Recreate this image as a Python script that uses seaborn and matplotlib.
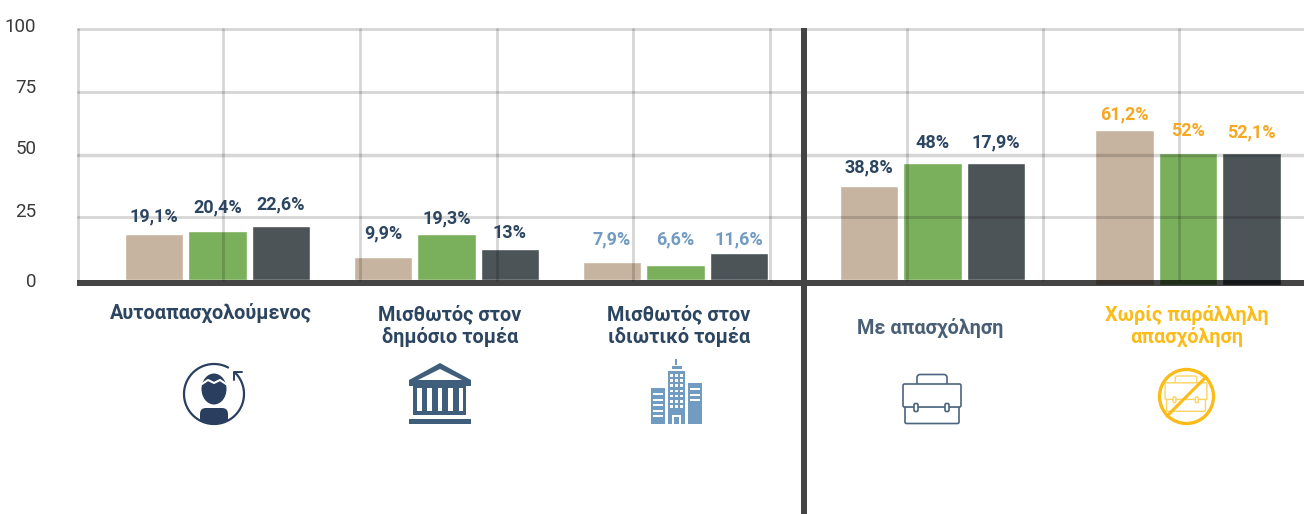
import numpy as np
import pandas as pd
import matplotlib
matplotlib.use("Agg")
import matplotlib.pyplot as plt
import seaborn as sns
from matplotlib.patches import Circle, Ellipse, FancyBboxPatch, Polygon, Rectangle
from matplotlib.transforms import ScaledTranslation

groups = ["Αυτοαπασχολούμενος", "Μισθωτός στον\nδημόσιο τομέα", "Μισθωτός στον\nιδιωτικό τομέα",
          "Με απασχόληση", "Χωρίς παράλληλη\nαπασχόληση"]
series = ["tan", "green", "dark"]
# bar heights as drawn in the picture (they do not always agree with the printed labels)
tan_vals = [18.3, 9.2, 7.2, 37.5, 59.8]
green_vals = [19.5, 18.3, 6.0, 46.6, 50.6]
dark_vals = [21.5, 12.4, 10.8, 46.6, 50.6]
tan_labels = ["19,1%", "9,9%", "7,9%", "38,8%", "61,2%"]
green_labels = ["20,4%", "19,3%", "6,6%", "48%", "52%"]
dark_labels = ["22,6%", "13%", "11,6%", "17,9%", "52,1%"]
y_ticks = [0, 25, 50, 75, 100]

W, H = 1304, 514
group_x = [217.5, 446.5, 675.5, 932.5, 1188]
tan_label_y = [25.5, 18.7, 16.3, 45.0, 66.1]
green_label_y = [29.0, 24.7, 16.3, 54.6, 59.4]
dark_label_y = [30.3, 18.7, 16.3, 55.0, 58.6]
label_colors = ["#2c4560", "#2c4560", "#729bc2", "#2c4560", "#f7a823"]
name_colors = ["#2c4560", "#2c4560", "#2c4560", "#4a5f75", "#fbbc1a"]
name_x = [211, 450, 679, 930, 1187]
name_y = [313, 325.5, 325.5, 328, 326]
grid_x = [78, 223, 360, 497, 633, 770, 907, 1043, 1179]

sns.set_theme(style="white")
plt.rcParams["font.family"] = ["Roboto", "DejaVu Sans"]

fig = plt.figure(figsize=(W / 100, H / 100), dpi=100)
ax = fig.add_axes([78 / W, 1 - 280 / H, (W - 78) / W, 251 / H])

df = pd.DataFrame({
    "pos": group_x * 3,
    "value": tan_vals + green_vals + dark_vals,
    "series": np.repeat(series, 5),
})
sns.barplot(data=df, x="pos", y="value", hue="series", hue_order=series, native_scale=True,
            width=0.832, gap=0.08, saturation=1, legend=False, errorbar=None, ax=ax,
            palette=["#c7b4a0", "#7ab05c", "#4d5457"])

ax.set_xlim(78, W)
ax.set_ylim(0, 100)
ax.set_xlabel("")
ax.set_ylabel("")
ax.set_xticks([])
sns.despine(ax=ax, left=True, bottom=True)

# last group runs down into the baseline
for p in ax.patches:
    if p.get_x() > 1050:
        p.set_y(-2)
        p.set_height(p.get_height() + 2)
        p.set_clip_on(False)

# black with low alpha = multiply look over the bars
for x in grid_x:
    ax.axvline(x, color="black", alpha=0.16, lw=2.0, clip_on=False, zorder=3)
for y in y_ticks[1:]:
    ax.axhline(y, color="black", alpha=0.16, lw=2.0 if y != 50 else 2.5, clip_on=False, zorder=3)

ax.set_yticks(y_ticks)
ax.tick_params(axis="y", length=0, pad=30, labelsize=13.5, labelcolor="#3a3a3a")
shifts = [0, 7, 7, 6, 4]
for lab, dy in zip(ax.get_yticklabels(), shifts):
    lab.set_transform(lab.get_transform() + ScaledTranslation(0, dy / 100, fig.dpi_scale_trans))

all_labels = [tan_labels, green_labels, dark_labels]
all_label_y = [tan_label_y, green_label_y, dark_label_y]
for s in range(3):
    for g in range(5):
        ax.text(group_x[g] + (s - 1) * 63.5, all_label_y[s][g], all_labels[s][g],
                ha="center", va="center", fontsize=13, fontweight="bold",
                color=label_colors[g], zorder=5)

# overlay in pixel coordinates for baseline, divider, names and icons
ov = fig.add_axes([0, 0, 1, 1], facecolor="none")
ov.set_xlim(0, W)
ov.set_ylim(H, 0)
ov.axis("off")
ov.add_patch(Rectangle((77, 280), W - 77, 6, color="black", alpha=0.73, lw=0))
ov.add_patch(Rectangle((801, 28), 6, H - 28, color="#444444", lw=0))

for g in range(5):
    ov.text(name_x[g], name_y[g], groups[g], ha="center", va="center", fontsize=14.3,
            fontweight="bold", color=name_colors[g], linespacing=1.17)

# person icon
navy = "#2a3f5f"
t = np.radians(np.linspace(-45, 298, 120))
ov.plot(214 + 30 * np.cos(t), 394 + 30 * np.sin(t), color=navy, lw=1.6)
ov.plot([234, 234, 242], [380, 372, 372], color=navy, lw=1.4)
ov.add_patch(Ellipse((214, 389), 25, 31, color=navy, lw=0))
ov.plot([202, 208, 214, 220, 226], [384, 380, 383, 380, 384], color="white", lw=1.5)
body = FancyBboxPatch((200, 408), 28, 17, boxstyle="round,pad=0,rounding_size=6", color=navy, lw=0)
ov.add_patch(body)
body.set_clip_path(Circle((214, 394), 30, transform=ov.transData))

# bank icon
slate = "#3f5e7c"
ov.add_patch(Polygon([(409, 380), (440, 363), (471, 380), (471, 386), (409, 386)], color=slate, lw=0))
ov.add_patch(Polygon([(418, 380), (440, 369), (462, 380)], color="white", lw=0))
ov.add_patch(Rectangle((413, 386), 53, 29, color=slate, lw=0))
for k in range(5):
    ov.add_patch(Rectangle((417 + k * 10.4, 388), 4.6, 23, color="white", lw=0))
ov.add_patch(Rectangle((409, 419), 62, 5, color=slate, lw=0))

# building icon
blue = "#729bc2"
for rect in [(675, 359, 2, 6), (672, 366, 10, 3), (668, 371, 17, 53), (651, 388, 14, 36), (688, 383, 14, 41)]:
    ov.add_patch(Rectangle(rect[:2], rect[2], rect[3], color=blue, lw=0))
for r in range(7):
    for c in range(3):
        ov.add_patch(Rectangle((670 + c * 5, 374 + r * 5.2), 2.6, 2.6, color="white", lw=0))
for r in range(5):
    ov.add_patch(Rectangle((653, 393 + r * 5.5), 10, 2.2, color="white", lw=0))
for r in range(3):
    ov.add_patch(Rectangle((690, 388 + r * 5.5), 10, 2.2, color="white", lw=0))
ov.add_patch(Rectangle((672, 415), 9, 9, color="white", lw=0))
ov.add_patch(Rectangle((674, 417), 5, 7, color=blue, lw=0))


def briefcase(cx, top, s, color, lw):
    # s scales the 58 px wide case
    r = 1.5 * s
    ov.add_patch(FancyBboxPatch((cx - 15 * s, top), 30 * s, 12 * s, boxstyle=f"round,pad=0,rounding_size={3 * s}",
                                fc="none", ec=color, lw=lw))
    ov.add_patch(FancyBboxPatch((cx - 27 * s, top + 32 * s), 54 * s, 17 * s, boxstyle=f"round,pad=0,rounding_size={r}",
                                fc="white", ec=color, lw=lw))
    ov.add_patch(FancyBboxPatch((cx - 29 * s, top + 9.5 * s), 58 * s, 23 * s, boxstyle=f"round,pad=0,rounding_size={r}",
                                fc="white", ec=color, lw=lw))
    for dx in (-16, 15):
        ov.add_patch(FancyBboxPatch((cx + (dx - 2) * s, top + 29 * s), 4 * s, 8 * s, boxstyle=f"round,pad=0,rounding_size={r}",
                                    fc="white", ec=color, lw=lw))


briefcase(932, 374.5, 1, "#4a6580", 1.2)
briefcase(1186, 376, 0.72, "#fdd35f", 1.0)
ov.add_patch(Circle((1186.5, 396.5), 27, fc="none", ec="#fbbc1a", lw=2.4))
ov.plot([1167, 1206], [416, 377], color="#fbbc1a", lw=2.2)

fig.savefig("out.png", dpi=100)
